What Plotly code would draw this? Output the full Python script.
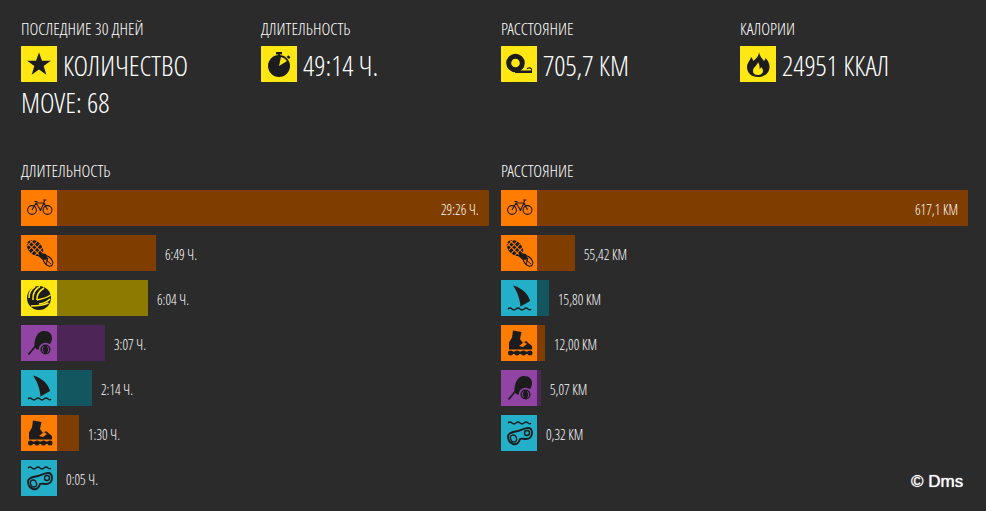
import base64
import plotly.graph_objects as go

W, H = 986, 511
BG = "#2b2b2b"
INK = "#1c1c1c"
TEXT = "#ffffff"
FONT = "Open Sans Condensed Light, Open Sans, sans-serif"

# ---- data -----------------------------------------------------------------
# bar lengths are read off the picture (in minutes / km on each panel's own scale)
duration_keys = ["bike", "run", "volley", "tennis", "surf", "roller", "swim"]
duration_minutes = [1766, 405, 372, 196, 143, 90, 0]
duration_labels = ["29:26 Ч.", "6:49 Ч.", "6:04 Ч.", "3:07 Ч.", "2:14 Ч.", "1:30 Ч.", "0:05 Ч."]

distance_keys = ["bike", "run", "surf", "roller", "tennis", "swim"]
distance_km = [617.1, 54.4, 17.2, 11.6, 5.7, 0]
distance_labels = ["617,1 КМ", "55,42 КМ", "15,80 КМ", "12,00 КМ", "5,07 КМ", "0,32 КМ"]

kpi_titles = ["ПОСЛЕДНИЕ 30 ДНЕЙ", "ДЛИТЕЛЬНОСТЬ", "РАССТОЯНИЕ", "КАЛОРИИ"]
kpi_values = ["КОЛИЧЕСТВО", "49:14 Ч.", "705,7 КМ", "24951 ККАЛ"]
kpi_icons = ["star", "watch", "tape", "flame"]
extra_line = "MOVE: 68"
section_titles = ["ДЛИТЕЛЬНОСТЬ", "РАССТОЯНИЕ"]
credit = "© Dms"

# ---- styles ---------------------------------------------------------------
bright = {"bike": "#ff7c00", "run": "#ff7c00", "roller": "#ff7c00",
          "volley": "#ffe714", "tennis": "#9144a3", "surf": "#23afc7",
          "swim": "#23afc7"}
dark = {"bike": "#7f3d00", "run": "#7f3d00", "roller": "#7f3d00",
        "volley": "#8c7b00", "tennis": "#4d2657", "surf": "#14565f",
        "swim": "#14565f"}
YELLOW = "#ffe714"


def glyph(name, bg):
    k = INK
    g = {
        "star": f'<path fill="{k}" d="M18 6.500l3 8.300h8.800l-7.100 5.300 2.600 8.600-7.300-5.200-7.300 5.200 2.600-8.600-7.100-5.300H15z"/>',
        "watch": f'<circle cx="18" cy="20" r="11" fill="{k}"/><rect x="15" y="6" width="6" height="2.400" fill="{k}"/>'
                 f'<rect x="17" y="8" width="2" height="3" fill="{k}"/><rect x="26" y="9.500" width="3" height="2.400" fill="{k}" transform="rotate(40 27 11)"/>'
                 f'<path fill="{bg}" d="M18 20L20 11A9.500 9.500 0 0 1 26 15z"/>',
        "tape": f'<circle cx="14.500" cy="17" r="6.800" fill="none" stroke="{k}" stroke-width="5"/>'
                f'<path fill="{k}" d="M14 24.500h17v2.500H14z"/><path fill="none" stroke="{k}" stroke-width="1.100" d="M26 23c.5-1.500 3.500-1.500 4.500 0v2"/>',
        "flame": f'<path fill="{k}" fill-rule="evenodd" d="M19 6c1 5 3 6 5 9 1-1 1.500-2 1.500-3 3 3 4 6 4 9 0 6-5 10-11.500 10S7 27 7 21c0-4 3-6 4-10 1 1 2 2 2 4 3-2 6-5 6-9zM18 16c0 3-5 5-5 9 0 3 2.500 4 5 4s5-1.500 5-4c0-2-1-3-2-4 0 1-1 2-1.500 2 .5-3-.5-5-1.500-7z"/>',
        "bike": f'<g fill="none" stroke="{k}" stroke-width="1.100"><circle cx="11" cy="20" r="4.400"/><circle cx="26.500" cy="20" r="4.400"/>'
                f'<path d="M11 20L15 13h8l3.500 7M15 13l4.500 7L23 13M13.500 11.500h3M22 10h3.500M23.500 10L23 13"/></g>'
                f'<circle cx="19.500" cy="20" r="1" fill="{k}"/>',
        "run": f'<g transform="rotate(44 14 13)"><ellipse cx="14" cy="13" rx="9.500" ry="6.500" fill="{k}"/>'
               f'<path stroke="{bg}" stroke-width="1" d="M7 8v10M11 7v12M15 6.500v13M19 7v12M5 11h18M5 15h18"/></g>'
               f'<path fill="{k}" d="M19 18l6 1 2 5-5 1-5-4z"/>'
               f'<ellipse cx="27" cy="26" rx="3.800" ry="5.800" transform="rotate(-40 27 26)" fill="none" stroke="{k}" stroke-width="1.300"/>'
               f'<path stroke="{k}" d="M24 24l6 5M27 22.500l-2 7"/>',
        "volley": f'<circle cx="18" cy="18" r="12" fill="{k}"/>'
                  f'<g fill="none" stroke="{bg}" stroke-width="1.600"><path d="M14 6.800C10 9 8 13 8 18"/><path d="M19 6.500C14 9 11.500 14 12 20"/><path d="M23 8C18 11 15.500 15 16 20"/>'
                  f'<path d="M16 20c5-1 10-2 13.500-5"/><path d="M18 24c4-.5 8-2 11-5"/><path d="M10 26c6 0 13-1 17.500-3"/></g>',
        "tennis": f'<path fill="{k}" d="M22 6c6-.5 9.500 3 9 8-.3 3-1.800 5-3 6-5 0-8 2-9 5-4-.5-6-2-5.500-6.500.5-6 3-11.500 8.500-12.500z"/>'
                  f'<path stroke="{k}" stroke-width="1.800" fill="none" d="M7.500 29.500l7.500-9"/>'
                  f'<circle cx="24.500" cy="24.500" r="6.800" fill="{bg}"/><circle cx="24.500" cy="24.500" r="5" fill="{k}"/>'
                  f'<path d="M22.500 21.500c-1.500 1.500-1.500 4 0 6M26.500 27.500c1.500-1.500 1.500-4 0-6" fill="none" stroke="{bg}" stroke-width="1"/>',
        "surf": f'<path fill="{k}" d="M12 5.500C21 8 27.500 14 29 21l-9.500 5.500C19 19 16 11 12 5.500z"/>'
                f'<path fill="none" stroke="{k}" stroke-width="1.400" d="M7 29q2-1.800 4 0t4 0 4 0 4 0 4 0 3 0"/>',
        "roller": f'<path fill="{k}" d="M12 5.500l8.500 1.500L19 14l3 4 3-2 6 5v3.500H8v-7l3-5z"/>'
                  f'<path fill="{bg}" d="M18 21l5-4 3 2-4 3z"/><g fill="{k}"><circle cx="9.500" cy="28" r="2.500"/><circle cx="16" cy="28" r="2.500"/><circle cx="22.500" cy="28" r="2.500"/><circle cx="29" cy="28" r="2.500"/><rect x="8" y="26.500" width="22" height="2.500"/></g>',
        "swim": f'<path fill="none" stroke="{k}" stroke-width="1.400" d="M7 8q2-1.800 4 0t4 0 4 0 4 0 4 0 3 0"/>'
                f'<path fill="none" stroke="{k}" stroke-width="1.900" d="M7 21C8 17 13 17 17 16 21 15 24 13 27 13 30 13 31 15 31 18 31 22 28 24 25 24 22 24 21 23 19 24 18 28 15 30 12 29 9 28 7 25 7 21Z"/>'
                f'<ellipse cx="12.500" cy="23.500" rx="3" ry="3.500" fill="none" stroke="{k}" stroke-width="1.400" transform="rotate(-20 12.500 23.500)"/>'
                f'<ellipse cx="26" cy="18" rx="2.500" ry="2.500" fill="none" stroke="{k}" stroke-width="1.400"/>',
    }[name]
    svg = (f'<svg xmlns="http://www.w3.org/2000/svg" width="36" height="36" viewBox="0 0 36 36">'
           f'<rect width="36" height="36" fill="{bg}"/>{g}</svg>')
    return "data:image/svg+xml;base64," + base64.b64encode(svg.encode()).decode()


def px(x):
    return x / W


def py(y):
    return 1 - y / H


ROW_TOP, PITCH, SLOTS = 185.5, 45, 7
ydom = [py(ROW_TOP + PITCH * SLOTS), py(ROW_TOP)]

fig = go.Figure()
images, notes = [], []


def note(x, y, text, size, xanchor="left", xref="paper", yref="paper", xshift=0, yshift=0, color=TEXT, family=FONT, weight=400, shadow=None):
    notes.append(dict(x=x, y=y, text=text, xref=xref, yref=yref, xanchor=xanchor, yanchor="middle",
                      xshift=xshift, yshift=yshift, showarrow=False, borderpad=0, borderwidth=0,
                      font=dict(size=size, color=color, family=family, weight=weight, shadow=shadow)))


panels = [
    ("x", "y", 21, duration_keys, duration_minutes, duration_labels, section_titles[0]),
    ("x2", "y2", 501, distance_keys, distance_km, distance_labels, section_titles[1]),
]
for xa, ya, left, keys, vals, labels, title in panels:
    fig.add_trace(go.Bar(x=vals, y=keys, orientation="h", xaxis=xa, yaxis=ya,
                         marker=dict(color=[dark[k] for k in keys], line_width=0),
                         hoverinfo="skip", showlegend=False))
    note(px(left), py(170), title, 17)
    top = max(vals)
    for i, (k, v, lab) in enumerate(zip(keys, vals, labels)):
        images.append(dict(source=glyph(k, bright[k]), xref="paper", yref="paper",
                           x=px(left), y=py(ROW_TOP + PITCH * i + 4.5),
                           sizex=36 / W, sizey=36 / H, xanchor="left", yanchor="top",
                           sizing="stretch", layer="above"))
        if v == top:
            note(v, k, lab, 14, "right", xa, ya, xshift=-10, yshift=-1)
        else:
            note(v, k, lab, 14, "left", xa, ya, xshift=9, yshift=-1)

kpi_x = [21, 261, 501, 740]
for x, t, v, ic in zip(kpi_x, kpi_titles, kpi_values, kpi_icons):
    note(px(x), py(29), t, 17)
    images.append(dict(source=glyph(ic, YELLOW), xref="paper", yref="paper", x=px(x), y=py(46),
                       sizex=36 / W, sizey=36 / H, xanchor="left", yanchor="top",
                       sizing="stretch", layer="above"))
    note(px(x + 42), py(65), v, 28)
note(px(21), py(102), extra_line, 28)
note(px(962.5), py(481), credit, 17, "right", color="#ffffff", family="Liberation Sans, Arial, sans-serif", weight=400, shadow="0 0 1px #ffffff")

axis_hidden = dict(visible=False, showgrid=False, zeroline=False, fixedrange=True)
fig.update_layout(
    width=W, height=H, autosize=False,
    margin=dict(l=0, r=0, t=0, b=0, pad=0),
    paper_bgcolor=BG, plot_bgcolor=BG,
    bargap=0.2, showlegend=False,
    xaxis=dict(domain=[px(57), px(489)], range=[0, max(duration_minutes)], anchor="y", **axis_hidden),
    xaxis2=dict(domain=[px(537), px(968)], range=[0, max(distance_km)], anchor="y2", **axis_hidden),
    yaxis=dict(domain=ydom, type="category", categoryorder="array", categoryarray=duration_keys,
               range=[SLOTS - 0.5, -0.5], anchor="x", **axis_hidden),
    yaxis2=dict(domain=ydom, type="category", categoryorder="array", categoryarray=distance_keys,
                range=[SLOTS - 0.5, -0.5], anchor="x2", **axis_hidden),
    images=images, annotations=notes,
)

post = "document.body.style.margin='0';document.body.style.background='%s';document.body.style.overflow='hidden';" % BG
fig.write_html("out.html", config=dict(displayModeBar=False), post_script=post)
